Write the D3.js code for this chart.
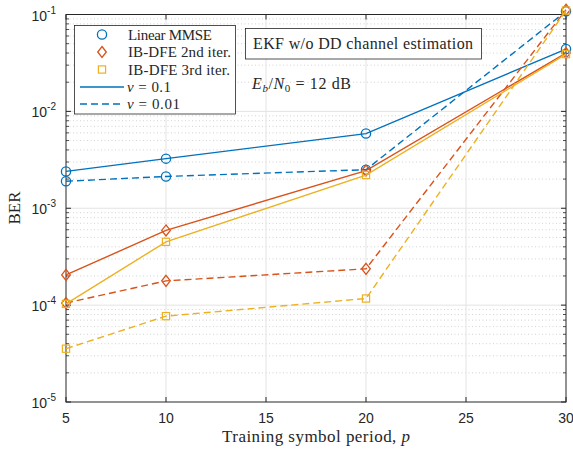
<!DOCTYPE html>
<html><head><meta charset="utf-8">
<script src="https://cdn.jsdelivr.net/npm/d3@7"></script>
<style>body{margin:0;background:#fff}</style>
</head><body><svg id="c" width="573" height="450"></svg>
<script>
const periods = [5, 10, 20, 30];
const mmse01 = [2.4e-3, 3.25e-3, 5.9e-3, 4.4e-2];
const mmse001 = [1.9e-3, 2.13e-3, 2.5e-3, 0.108];
const dfe2_01 = [2.05e-4, 5.9e-4, 2.45e-3, 4.0e-2];
const dfe2_001 = [1.05e-4, 1.78e-4, 2.37e-4, 0.112];
const dfe3_01 = [1.03e-4, 4.5e-4, 2.2e-3, 3.9e-2];
const dfe3_001 = [3.55e-5, 7.7e-5, 1.17e-4, 0.11];
const xTicks = [5, 10, 15, 20, 25, 30];
const yDecades = [-5, -4, -3, -2, -1];
const legendLabels = ["Linear MMSE", "IB-DFE 2nd iter.", "IB-DFE 3rd iter."];

const colors = ["#0072BD", "#D95319", "#EDB120"];
const series = [
  {v: mmse01, c: 0, m: "circle", dash: null},
  {v: mmse001, c: 0, m: "circle", dash: "7,4"},
  {v: dfe2_01, c: 1, m: "diamond", dash: null},
  {v: dfe2_001, c: 1, m: "diamond", dash: "7,4"},
  {v: dfe3_01, c: 2, m: "square", dash: null},
  {v: dfe3_001, c: 2, m: "square", dash: "7,4"}
];

const svg = d3.select("#c");
const L = 66, R = 566, T = 14.5, B = 402;
const x = d3.scaleLinear().domain([5, 30]).range([L, R]);
const y = d3.scaleLog().domain([1e-5, 1e-1]).range([B, T]);

const g = svg.append("g");
const minors = [];
for (let d = -5; d < -1; d++) for (let k = 2; k <= 9; k++) minors.push(k * Math.pow(10, d));
g.selectAll(".mg").data(minors).enter().append("line")
  .attr("x1", L).attr("x2", R).attr("y1", d => y(d)).attr("y2", d => y(d))
  .attr("stroke", "#c8c8c8").attr("stroke-width", 0.8).attr("stroke-dasharray", "1,2.5");
g.selectAll(".gy").data(yDecades.slice(1, 4)).enter().append("line")
  .attr("x1", L).attr("x2", R).attr("y1", d => y(Math.pow(10, d))).attr("y2", d => y(Math.pow(10, d)))
  .attr("stroke", "#e3e3e3").attr("stroke-width", 1);
g.selectAll(".gx").data(xTicks.slice(1, 5)).enter().append("line")
  .attr("x1", d => x(d)).attr("x2", d => x(d)).attr("y1", T).attr("y2", B)
  .attr("stroke", "#e3e3e3").attr("stroke-width", 1);

const axC = "#262626";
const frame = svg.append("g");
xTicks.forEach(t => {
  frame.append("line").attr("x1", x(t)).attr("x2", x(t)).attr("y1", B).attr("y2", B - 5).attr("stroke", axC);
  frame.append("line").attr("x1", x(t)).attr("x2", x(t)).attr("y1", T).attr("y2", T + 5).attr("stroke", axC);
  frame.append("text").attr("x", x(t)).attr("y", 423).attr("text-anchor", "middle")
    .attr("font-family", "Liberation Sans, Arial, sans-serif").attr("font-size", 14).attr("fill", axC).text(t);
});
yDecades.forEach(d => {
  const yy = y(Math.pow(10, d));
  frame.append("line").attr("x1", L).attr("x2", L + 5).attr("y1", yy).attr("y2", yy).attr("stroke", axC);
  frame.append("line").attr("x1", R).attr("x2", R - 5).attr("y1", yy).attr("y2", yy).attr("stroke", axC);
  const tx = frame.append("text").attr("x", 56).attr("y", yy + 6).attr("text-anchor", "end")
    .attr("font-family", "Liberation Sans, Arial, sans-serif").attr("font-size", 14).attr("fill", axC);
  tx.append("tspan").text("10");
  tx.append("tspan").attr("dy", -7).attr("font-size", 10).text("-" + Math.abs(d));
});
minors.forEach(m => {
  const yy = y(m);
  frame.append("line").attr("x1", L).attr("x2", L + 3).attr("y1", yy).attr("y2", yy).attr("stroke", axC).attr("stroke-width", 0.8);
  frame.append("line").attr("x1", R).attr("x2", R - 3).attr("y1", yy).attr("y2", yy).attr("stroke", axC).attr("stroke-width", 0.8);
});
frame.append("rect").attr("x", L).attr("y", T).attr("width", R - L).attr("height", B - T)
  .attr("fill", "none").attr("stroke", axC).attr("stroke-width", 1);

const line = d3.line().x((d, i) => x(periods[i])).y(d => y(d));
function marker(sel, type, cx, cy, col) {
  if (type === "circle") sel.append("circle").attr("cx", cx).attr("cy", cy).attr("r", 4.6)
    .attr("fill", "none").attr("stroke", col).attr("stroke-width", 1.3);
  else if (type === "diamond") sel.append("path")
    .attr("d", `M${cx},${cy - 5.5}L${cx + 4.3},${cy}L${cx},${cy + 5.5}L${cx - 4.3},${cy}Z`)
    .attr("fill", "none").attr("stroke", col).attr("stroke-width", 1.3);
  else sel.append("rect").attr("x", cx - 3.6).attr("y", cy - 3.6).attr("width", 7.2).attr("height", 7.2)
    .attr("fill", "none").attr("stroke", col).attr("stroke-width", 1.2);
}
const plot = svg.append("g");
series.forEach(s => {
  plot.append("path").attr("d", line(s.v)).attr("fill", "none").attr("stroke", colors[s.c])
    .attr("stroke-width", 1.4).attr("stroke-dasharray", s.dash);
  s.v.forEach((v, i) => marker(plot, s.m, x(periods[i]), y(v), colors[s.c]));
});

const serif = "Liberation Serif, 'DejaVu Serif', serif";
svg.append("text").attr("x", 222).attr("y", 442)
  .attr("font-family", serif).attr("font-size", 17).attr("fill", axC)
  .attr("textLength", 188).attr("lengthAdjust", "spacing")
  .call(t => { t.append("tspan").text("Training symbol period, "); t.append("tspan").attr("font-style", "italic").text("p"); });
svg.append("text").attr("transform", "translate(20,208) rotate(-90)").attr("text-anchor", "middle")
  .attr("font-family", serif).attr("font-size", 17).attr("fill", axC).text("BER");

const lg = svg.append("g");
lg.append("rect").attr("x", 74.5).attr("y", 25.5).attr("width", 161).attr("height", 88.5)
  .attr("fill", "#fff").attr("stroke", axC).attr("stroke-width", 0.8);
const lgY = [34.5, 52, 69.5, 87, 104];
const lgW = [84, 103, 102];
legendLabels.forEach((lab, i) => {
  marker(lg, ["circle", "diamond", "square"][i], 102, lgY[i], colors[i]);
  lg.append("text").attr("x", 128).attr("y", lgY[i] + 5).attr("font-family", serif).attr("font-size", 15)
    .attr("fill", axC).attr("textLength", lgW[i]).attr("lengthAdjust", "spacing").text(lab);
});
[["0.1", null, 44], ["0.01", "7,4", 53]].forEach((p, j) => {
  const yy = lgY[3 + j];
  lg.append("line").attr("x1", 80).attr("x2", 124).attr("y1", yy).attr("y2", yy)
    .attr("stroke", colors[0]).attr("stroke-width", 1.4).attr("stroke-dasharray", p[1]);
  const t = lg.append("text").attr("x", 127).attr("y", yy + 5).attr("font-family", serif).attr("font-size", 15).attr("fill", axC)
    .attr("textLength", p[2]).attr("lengthAdjust", "spacing");
  t.append("tspan").attr("font-style", "italic").text("ν");
  t.append("tspan").text(" = " + p[0]);
});

svg.append("rect").attr("x", 245.5).attr("y", 28.5).attr("width", 236).attr("height", 30.5)
  .attr("fill", "#fff").attr("stroke", axC).attr("stroke-width", 0.8);
svg.append("text").attr("x", 253).attr("y", 48.5).attr("font-family", serif)
  .attr("font-size", 16).attr("fill", axC).attr("textLength", 220).attr("lengthAdjust", "spacing")
  .text("EKF w/o DD channel estimation");
const eb = svg.append("text").attr("x", 252).attr("y", 89).attr("font-family", serif).attr("font-size", 16).attr("fill", axC)
  .attr("textLength", 99).attr("lengthAdjust", "spacing");
eb.append("tspan").attr("font-style", "italic").text("E");
eb.append("tspan").attr("font-style", "italic").attr("font-size", 11).attr("dy", 3).text("b");
eb.append("tspan").attr("dy", -3).text("/");
eb.append("tspan").attr("font-style", "italic").text("N");
eb.append("tspan").attr("font-size", 11).attr("dy", 3).text("0");
eb.append("tspan").attr("dy", -3).text(" = 12 dB");
</script></body></html>
